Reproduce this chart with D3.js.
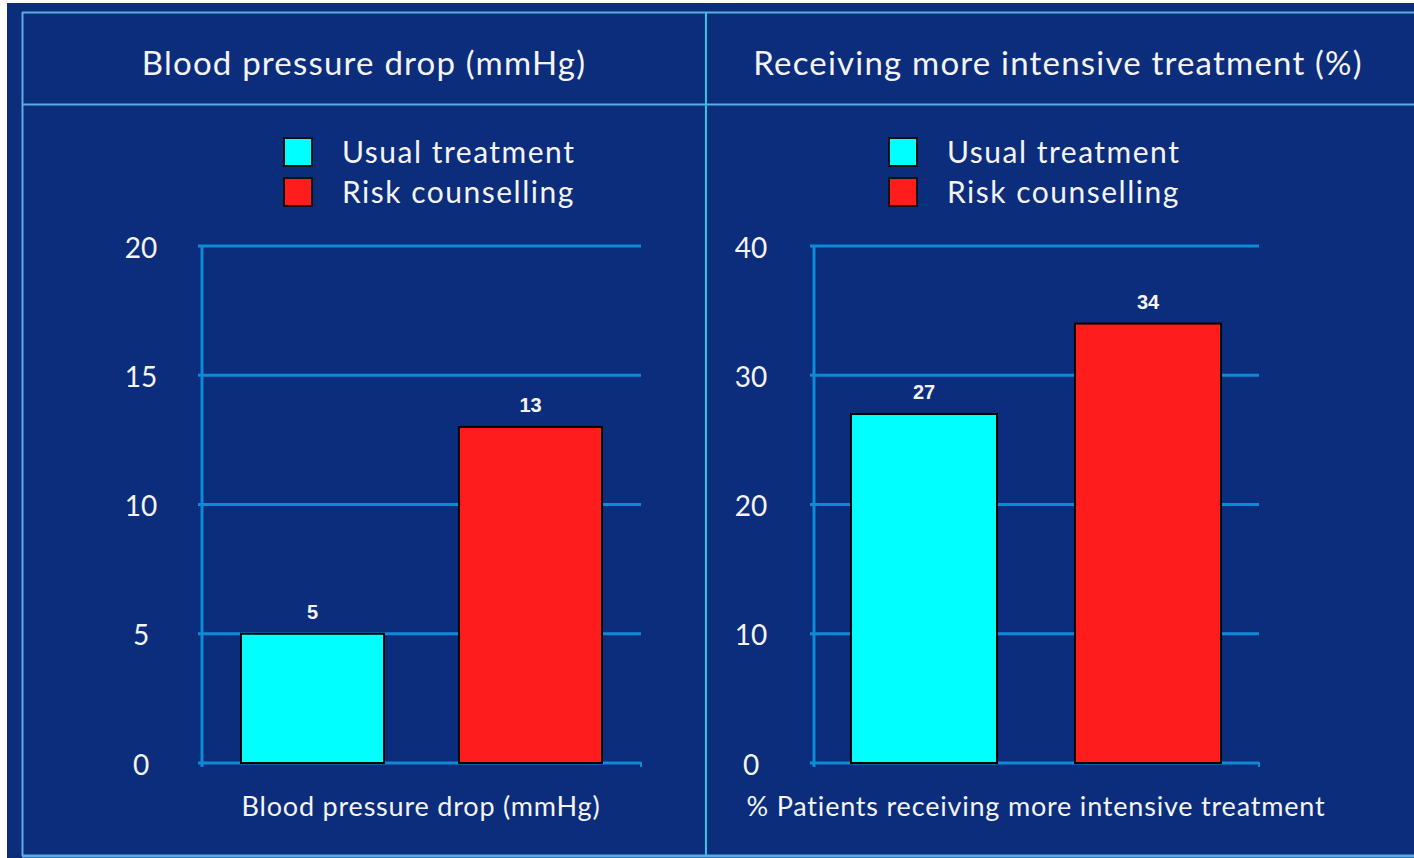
<!DOCTYPE html>
<html lang="en">
<head>
<meta charset="UTF-8">
<title>Risk counselling vs usual treatment</title>
<style>
  body { margin: 0; background: #fff; }
  svg text { fill: #f4f4f8; }
  .title { font-family: "Lato", "Open Sans", sans-serif; font-size: 33px; letter-spacing: 1.2px; text-anchor: middle; }
  .leg { font-family: "Lato", "Open Sans", sans-serif; font-size: 30px; letter-spacing: 1.5px; }
  .xlab { font-family: "Lato", "Open Sans", sans-serif; font-size: 27px; letter-spacing: 0.8px; text-anchor: middle; }
  .tick text { font-family: "Lato", "Open Sans", sans-serif; font-size: 28px; }
  .val { font-family: "Liberation Sans", Arial, sans-serif; font-weight: bold; font-size: 20px; text-anchor: middle; }
</style>
</head>
<body>
<script src="https://d3js.org/d3.v7.min.js"></script>
<script>
const width = 1414;
const height = 858;

// data
const series = ["Usual treatment", "Risk counselling"];
const colors = ["#00ffff", "#ff1c1c"];
const panelTitles = ["Blood pressure drop (mmHg)", "Receiving more intensive treatment (%)"];
const axisTitles = ["Blood pressure drop (mmHg)", "% Patients receiving more intensive treatment"];
const bpValues = [5, 13];
const treatValues = [27, 34];
const bpTicks = [0, 5, 10, 15, 20];
const treatTicks = [0, 10, 20, 30, 40];

const panels = [
  { values: bpValues, ticks: bpTicks, max: 20, left: 202, right: 641, bars: [241, 459], barW: 143, tickX: 141, legX: 284, titleX: 364, xlabX: 421 },
  { values: treatValues, ticks: treatTicks, max: 40, left: 814, right: 1259, bars: [851, 1075], barW: 146, tickX: 751, legX: 889, titleX: 1058, xlabX: 1036 }
];
const plotTop = 246, plotBottom = 763;

const svg = d3.select("body").append("svg").attr("width", width).attr("height", height);

svg.append("rect").attr("x", 7).attr("y", 3).attr("width", width - 7).attr("height", height - 3).attr("fill", "#0b2d7b");

// frame
const frame = "#5aaee6";
svg.append("line").attr("x1", 22).attr("x2", width).attr("y1", 12.5).attr("y2", 12.5).attr("stroke", frame).attr("stroke-width", 2);
svg.append("line").attr("x1", 22).attr("x2", width).attr("y1", 104.5).attr("y2", 104.5).attr("stroke", frame).attr("stroke-width", 2);
svg.append("line").attr("x1", 22).attr("x2", width).attr("y1", 856).attr("y2", 856).attr("stroke", frame).attr("stroke-width", 3);
svg.append("line").attr("x1", 22.5).attr("x2", 22.5).attr("y1", 12).attr("y2", 856).attr("stroke", frame).attr("stroke-width", 2);
svg.append("line").attr("x1", 706).attr("x2", 706).attr("y1", 12).attr("y2", 856).attr("stroke", "#22c8ee").attr("stroke-width", 2);

const axisColor = "#0f8ad6";

panels.forEach(function (p, k) {
  svg.append("text").attr("class", "title").attr("x", p.titleX).attr("y", 75).text(panelTitles[k]);

  const y = d3.scaleLinear().domain([0, p.max]).range([plotBottom, plotTop]);
  const x = d3.scaleOrdinal().domain(series).range(p.bars);

  // grid lines
  svg.append("g").selectAll("line").data(p.ticks).enter().append("line")
    .attr("x1", p.left - 4).attr("x2", p.right)
    .attr("y1", function (d) { return y(d); }).attr("y2", function (d) { return y(d); })
    .attr("stroke", axisColor).attr("stroke-width", 3);

  // y axis
  svg.append("line").attr("x1", p.left).attr("x2", p.left).attr("y1", plotTop).attr("y2", plotBottom + 4)
    .attr("stroke", axisColor).attr("stroke-width", 3);
  svg.append("line").attr("x1", p.right).attr("x2", p.right).attr("y1", plotBottom - 1).attr("y2", plotBottom + 4)
    .attr("stroke", axisColor).attr("stroke-width", 2);

  const ax = svg.append("g").attr("transform", "translate(" + p.tickX + ",0)")
    .call(d3.axisLeft(y).tickValues(p.ticks).tickSize(0).tickPadding(0));
  ax.select(".domain").remove();
  ax.selectAll(".tick text").attr("text-anchor", "middle").attr("dy", "0.4em");

  // bars
  svg.append("g").selectAll("rect").data(p.values).enter().append("rect")
    .attr("x", function (d, i) { return x(series[i]); })
    .attr("y", function (d) { return y(d); })
    .attr("width", p.barW)
    .attr("height", function (d) { return y(0) - y(d); })
    .attr("fill", function (d, i) { return colors[i]; })
    .attr("stroke", "#000").attr("stroke-width", 2);

  svg.append("g").selectAll("text").data(p.values).enter().append("text")
    .attr("class", "val")
    .attr("x", function (d, i) { return x(series[i]) + p.barW / 2; })
    .attr("y", function (d) { return y(d) - 15; })
    .text(function (d) { return d; });

  // legend
  const leg = svg.append("g");
  leg.selectAll("rect").data(series).enter().append("rect")
    .attr("x", p.legX).attr("y", function (d, i) { return 138 + i * 40; })
    .attr("width", 28).attr("height", 28)
    .attr("fill", function (d, i) { return colors[i]; })
    .attr("stroke", "#111").attr("stroke-width", 2);
  leg.selectAll("text").data(series).enter().append("text")
    .attr("class", "leg").attr("x", p.legX + 58).attr("y", function (d, i) { return 163 + i * 40; })
    .text(function (d) { return d; });

  svg.append("text").attr("class", "xlab").attr("x", p.xlabX).attr("y", 816).text(axisTitles[k]);
});
</script>
</body>
</html>
